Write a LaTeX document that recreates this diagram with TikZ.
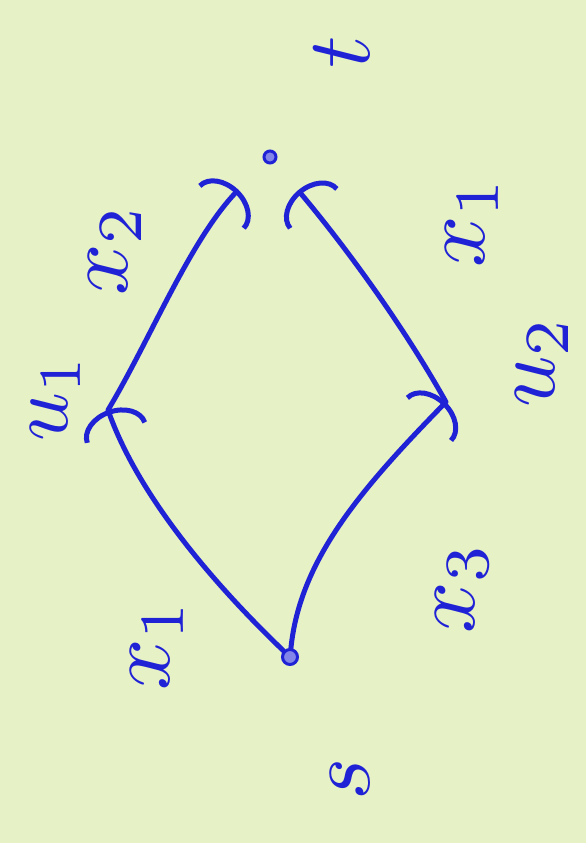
\documentclass[tikz,border=0pt]{standalone}
\usepackage{tikz}
\usetikzlibrary{arrows.meta}
\definecolor{paperbg}{RGB}{231,241,198}
\definecolor{penblue}{RGB}{32,34,214}
\tikzset{
  ink/.style={draw=penblue, line width=5pt, line cap=round},
  arr/.style={ink, -{Arc Barb[length=24pt,width=66pt,line width=5pt]}},
  vtx/.style={circle, draw=penblue, fill=penblue!55, line width=3pt, inner sep=0pt, minimum size=15pt},
  lbl/.style={text=penblue, scale=9, rotate=90, inner sep=0pt},
}
\begin{document}
\begin{tikzpicture}[x=1pt,y=-1pt]
  \fill[paperbg] (0,0) rectangle (586,843);
  \useasboundingbox (0,0) rectangle (586,843);
  % vertices
  \node[vtx] (s) at (290,657) {};
  \node[vtx,minimum size=12pt] (t) at (270,157) {};
  \coordinate (u1) at (108,410);
  \coordinate (u2) at (446,402);
  % edges
  \draw[arr] (s) .. controls (220,590) and (140,500) .. (u1);
  \draw[arr,shorten >=38pt] (u1) .. controls (150,340) and (190,240) .. (t);
  \draw[arr] (s) .. controls (300,560) and (360,490) .. (u2);
  \draw[arr,shorten >=36pt] (u2) .. controls (400,320) and (340,240) .. (t);
  % labels
  \node[lbl] (tl) at (342,52) {$t$};
  \node[lbl] (sl) at (350,779) {$s$};
  \node[lbl,scale=.95] (u1l) at (56,398) {$u_1$};
  \node[lbl] (u2l) at (542,362) {$u_2$};
  \node[lbl] (x2l) at (115,250) {$x_2$};
  \node[lbl] (x1r) at (472,222) {$x_1$};
  \node[lbl] (x1l) at (157,645) {$x_1$};
  \node[lbl] (x3l) at (462,588) {$x_3$};
\end{tikzpicture}
\end{document}
